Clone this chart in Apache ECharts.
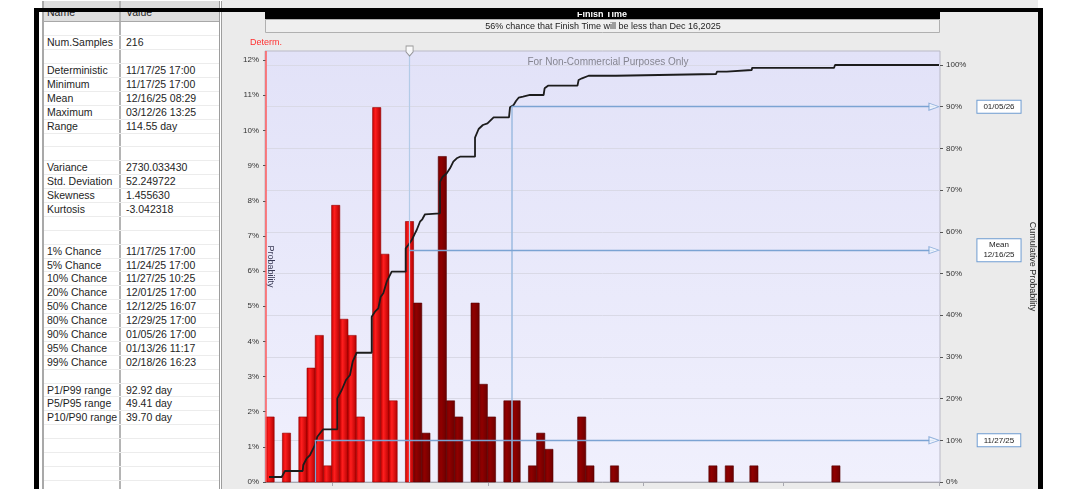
<!DOCTYPE html>
<html>
<head>
<meta charset="utf-8">
<title>Finish Time</title>
<script src="https://cdn.jsdelivr.net/npm/echarts@6/dist/echarts.min.js"></script>
<style>
  html, body { margin: 0; padding: 0; }
  body { width: 1065px; height: 489px; overflow: hidden; background: #fff; position: relative; font-family: 'Liberation Sans', Arial, sans-serif; }
  .panel { position: absolute; left: 222px; top: 0; width: 816px; height: 489px; background: #ebebeb; }
  #chart { position: absolute; left: 222px; top: 0; width: 816px; height: 489px; }
  .frame { position: absolute; left: 34px; top: 8px; width: 999px; height: 490px; border: 5px solid #000; border-top-width: 4px; border-bottom: none; pointer-events: none; z-index: 5; }
  .stats { position: absolute; left: 42px; top: 1px; width: 180px; height: 488px; background: #fff; box-sizing: border-box; border-left: 2px solid #a9a9a9; border-right: 3px double #9d9d9d; font-size: 10.5px; color: #1e1e1e; overflow: hidden; }
  .stats .row { display: flex; height: 13.9px; line-height: 13.9px; border-bottom: 1px solid #ececec; box-sizing: border-box; white-space: nowrap; }
  .stats .head { height: 21.45px; line-height: 22px; background: #dedede; border-bottom: 1px solid #a8a8a8; }
  .stats .name { width: 77px; padding-left: 3px; box-sizing: border-box; border-right: 2px solid #b4b4b4; }
  .stats .value { flex: 1; padding-left: 5px; }
</style>
</head>
<body>
<div class="stats" id="stats"></div>
<div class="panel"></div>
<div id="chart"></div>
<div class="frame"></div>
<script>
// statistics table (left panel), blank strings are empty rows
const statNames = ['', 'Num.Samples', '', 'Deterministic', 'Minimum', 'Mean', 'Maximum', 'Range', '', '',
  'Variance', 'Std. Deviation', 'Skewness', 'Kurtosis', '', '',
  '1% Chance', '5% Chance', '10% Chance', '20% Chance', '50% Chance', '80% Chance', '90% Chance', '95% Chance', '99% Chance', '',
  'P1/P99 range', 'P5/P95 range', 'P10/P90 range', '', '', '', '', '', '']
const statValues = ['', '216', '', '11/17/25 17:00', '11/17/25 17:00', '12/16/25 08:29', '03/12/26 13:25', '114.55 day', '', '',
  '2730.033430', '52.249722', '1.455630', '-3.042318', '', '',
  '11/17/25 17:00', '11/24/25 17:00', '11/27/25 10:25', '12/01/25 17:00', '12/12/25 16:07', '12/29/25 17:00', '01/05/26 17:00', '01/13/26 11:17', '02/18/26 16:23', '',
  '92.92 day', '49.41 day', '39.70 day', '', '', '', '', '', '']

// histogram: probability (%) per bin, bins start at 11/17/25 17:00 (day 0)
const binDays = 114.55 / 70
const binPct = [
  1.85, 0, 1.39, 0, 1.85, 3.24, 4.17, 0.46, 7.87, 4.63,
  4.17, 1.85, 0, 10.65, 6.48, 2.31, 0, 7.41, 5.09, 1.39,
  0, 9.26, 2.31, 1.85, 0, 5.09, 2.78, 1.85, 0, 2.31,
  2.31, 0, 0.46, 1.39, 0.93, 0, 0, 0, 1.85, 0.46,
  0, 0, 0.46, 0, 0, 0, 0, 0, 0, 0,
  0, 0, 0, 0, 0.46, 0, 0.46, 0, 0, 0.46,
  0, 0, 0, 0, 0, 0, 0, 0, 0, 0.46
]

// cumulative probability curve: [day, %]
const cdfPoints = [
  [0.6, 1.2], [3.13, 1.2], [3.79, 2.64], [7.32, 2.64], [7.44, 4.08], [8.12, 5.68], [8.78, 6.47], [9.44, 8.08],
  [9.78, 8.87], [10.24, 10.86], [10.78, 11.68], [11.43, 12.64], [14.23, 12.64], [14.23, 20.07], [15.11, 22.06],
  [15.96, 24.46], [16.76, 25.66], [17.3, 28.85], [18.1, 31.0], [21.09, 31.0], [21.09, 39.64], [21.75, 40.84],
  [22.41, 41.65], [22.89, 44.44], [23.41, 45.25], [24.09, 48.03], [24.41, 48.85], [25.08, 50.43], [27.88, 50.43],
  [27.88, 56.04], [28.4, 56.83], [29.08, 58.03], [29.73, 59.64], [30.07, 60.43], [30.73, 62.42], [31.19, 63.0],
  [31.73, 64.2], [32.07, 64.44], [34.72, 64.44], [34.72, 72.01], [35.26, 73.21], [36.06, 74.03], [36.72, 75.23],
  [37.38, 76.81], [38.06, 77.63], [38.71, 78.01], [41.71, 78.01], [41.71, 82.61], [42.43, 84.65], [43.28, 85.61],
  [44.2, 86.02], [45.42, 87.46], [48.49, 87.46], [48.69, 89.86], [49.41, 90.41], [49.89, 91.37], [50.41, 92.16],
  [51.29, 92.4], [52.68, 92.81], [55.4, 92.81], [55.6, 94.41], [56.28, 95.04], [62.16, 95.04], [62.38, 96.4],
  [63.06, 96.81], [64.38, 97.43], [69.85, 97.43], [70.05, 97.84], [89.8, 97.84], [90.0, 98.39], [91.96, 98.39],
  [92.0, 98.8], [96.95, 98.8], [96.99, 99.3], [113.35, 99.3], [113.55, 100], [134.3, 100]
]

const determDay = 0          // 11/17/25 17:00
const meanDay = 28.65        // 12/16/25 08:29
const meanCum = 55.6
const p10Day = 9.73          // 11/27/25 10:25
const p90Day = 49.0          // 01/05/26 17:00
const monthTicks = [13.29, 44.29, 75.29, 103.29, 134.29]

// build the table
const stats = document.getElementById('stats')
let html = '<div class="row head"><div class="name">Name</div><div class="value">Value</div></div>'
statNames.forEach((n, i) => {
  html += '<div class="row"><div class="name">' + n + '</div><div class="value">' + statValues[i] + '</div></div>'
})
stats.innerHTML = html

const probMax = 12.26
const cumMax = 103.36
const arrowDay = 133.3
const font = 'Liberation Sans, Arial, sans-serif'

const redFill = new echarts.graphic.LinearGradient(0, 0, 1, 0, [
  { offset: 0, color: '#c40000' }, { offset: 0.35, color: '#ff1e1e' }, { offset: 1, color: '#b00000' }
])
const darkFill = new echarts.graphic.LinearGradient(0, 0, 1, 0, [
  { offset: 0, color: '#760000' }, { offset: 0.35, color: '#900000' }, { offset: 1, color: '#6c0000' }
])

const boxLabel = (text) => ({
  show: true, position: 'end', distance: 65, align: 'center', formatter: text,
  color: '#222', fontSize: 8, fontFamily: font, lineHeight: 10,
  backgroundColor: '#fff', borderColor: '#6f9dd2', borderWidth: 1, padding: [1, 6]
})

const chart = echarts.init(document.getElementById('chart'))
chart.setOption({
  animation: false,
  textStyle: { fontFamily: font },
  grid: {
    left: 43, right: 98, top: 51, bottom: 7,
    outerBoundsMode: 'none',
    show: true, borderColor: '#b9b9c6', borderWidth: 1,
    backgroundColor: new echarts.graphic.LinearGradient(0, 0, 0, 1, [
      { offset: 0, color: '#e2e2f8' }, { offset: 1, color: '#f0f0fd' }
    ])
  },
  graphic: [
    { type: 'rect', shape: { x: 43, y: 8, width: 675, height: 11 }, style: { fill: '#000' } },
    { type: 'text', x: 380, y: 14.5, style: { text: 'Finish Time', fill: '#fff', font: 'bold 9px ' + font, align: 'center', verticalAlign: 'middle' } },
    { type: 'rect', shape: { x: 43.5, y: 19.5, width: 674, height: 13 }, style: { fill: '#efefef', stroke: '#b0b0b0', lineWidth: 1 } },
    { type: 'text', x: 381, y: 26.5, style: { text: '56% chance that Finish Time will be less than Dec 16,2025', fill: '#222', font: '9px ' + font, align: 'center', verticalAlign: 'middle' } },
    { type: 'text', x: 386, y: 62, z: 10, style: { text: 'For Non-Commercial Purposes Only', fill: '#858590', font: '10px ' + font, align: 'center', verticalAlign: 'middle' } }
  ],
  xAxis: {
    type: 'value', min: -0.2, max: 134.5,
    axisLine: { show: true, lineStyle: { color: '#a8a8b0' } },
    axisTick: { show: true, customValues: monthTicks, length: 4, lineStyle: { color: '#a8a8b0' } },
    axisLabel: { show: false },
    splitLine: { show: false }
  },
  yAxis: [
    {
      type: 'value', position: 'left', min: 0, max: probMax,
      name: 'Probability', nameLocation: 'middle', nameRotate: -90, nameGap: -10, nameMoveOverlap: false,
      nameTextStyle: { color: '#3a3a55', fontSize: 9 },
      axisLine: { show: false },
      axisTick: { show: true, customValues: [0, 1, 2, 3, 4, 5, 6, 7, 8, 9, 10, 11, 12], length: 3, lineStyle: { color: '#555' } },
      axisLabel: { customValues: [0, 1, 2, 3, 4, 5, 6, 7, 8, 9, 10, 11, 12], formatter: '{value}%', fontSize: 8, color: '#333', margin: 6 },
      splitLine: { show: false }
    },
    {
      type: 'value', position: 'right', min: 0, max: cumMax,
      name: 'Cumulative Probability', nameLocation: 'middle', nameRotate: -90, nameGap: 88, nameMoveOverlap: false,
      nameTextStyle: { color: '#2a2a2a', fontSize: 9 },
      axisLine: { show: false },
      axisTick: { show: true, customValues: [0, 10, 20, 30, 40, 50, 60, 70, 80, 90, 100], length: 3, lineStyle: { color: '#555' } },
      axisLabel: { customValues: [0, 10, 20, 30, 40, 50, 60, 70, 80, 90, 100], formatter: '{value}%', fontSize: 8, color: '#333', margin: 6 },
      splitLine: { show: true, lineStyle: { color: '#d9d9e6', width: 1 } }
    }
  ],
  series: [
    {
      name: 'Probability',
      type: 'custom',
      yAxisIndex: 0,
      data: binPct.map((v, i) => [i * binDays, v]),
      renderItem: (params, api) => {
        const start = api.value(0)
        const v = api.value(1)
        if (!v) return
        const p0 = api.coord([start, v])
        const p1 = api.coord([start + binDays, 0])
        const early = start + binDays / 2 < meanDay
        return {
          type: 'rect',
          shape: { x: p0[0], y: p0[1], width: p1[0] - p0[0], height: p1[1] - p0[1] },
          style: { fill: early ? redFill : darkFill, stroke: early ? '#940000' : '#560000', lineWidth: 0.6 }
        }
      },
      markLine: {
        silent: true, symbol: ['none', 'none'],
        lineStyle: { color: '#ff5a5a', width: 1.5, type: 'solid' },
        label: { show: true, position: 'end', formatter: 'Determ.', color: '#ff3030', fontSize: 9, distance: 4 },
        data: [[{ coord: [determDay, 0] }, { coord: [determDay, probMax] }]]
      }
    },
    {
      name: 'Cumulative',
      type: 'line',
      yAxisIndex: 1,
      data: cdfPoints,
      symbol: 'none',
      z: 4,
      lineStyle: { color: '#1c1c1c', width: 1.8 },
      markLine: {
        silent: true, symbol: ['none', 'none'],
        lineStyle: { color: '#7ba3d3', width: 1.3, type: 'solid' },
        label: { show: false },
        data: [
          [{ coord: [meanDay, 0], lineStyle: { color: '#b3cbe7', width: 1.2 } }, { coord: [meanDay, cumMax] }],
          [{ coord: [p10Day, 0] }, { coord: [p10Day, 10] }],
          [{ coord: [p90Day, 0], lineStyle: { color: '#9dbbe0', width: 1.5 } }, { coord: [p90Day, 90] }],
          [{ coord: [p10Day, 10] }, { coord: [arrowDay, 10], label: boxLabel('11/27/25') }],
          [{ coord: [meanDay, meanCum] }, { coord: [arrowDay, meanCum], label: boxLabel('Mean\n12/16/25') }],
          [{ coord: [p90Day, 90] }, { coord: [arrowDay, 90], label: boxLabel('01/05/26') }]
        ]
      }
    },
    {
      name: 'arrows',
      type: 'scatter',
      yAxisIndex: 1,
      silent: true, clip: false, z: 5,
      data: [[arrowDay, 10], [arrowDay, meanCum], [arrowDay, 90]],
      symbol: 'triangle', symbolRotate: -90, symbolSize: [7, 10],
      itemStyle: { color: '#f4f7ff', borderColor: '#7ba3d3', borderWidth: 1 }
    },
    {
      name: 'mean handle',
      type: 'scatter',
      yAxisIndex: 1,
      silent: true, clip: false, z: 6,
      data: [[meanDay, cumMax]],
      symbol: 'path://M0,0L8,0L8,6L4,10L0,6Z', symbolSize: [7, 10],
      itemStyle: { color: '#fff', borderColor: '#808080', borderWidth: 1 }
    }
  ]
})
</script>
</body>
</html>
